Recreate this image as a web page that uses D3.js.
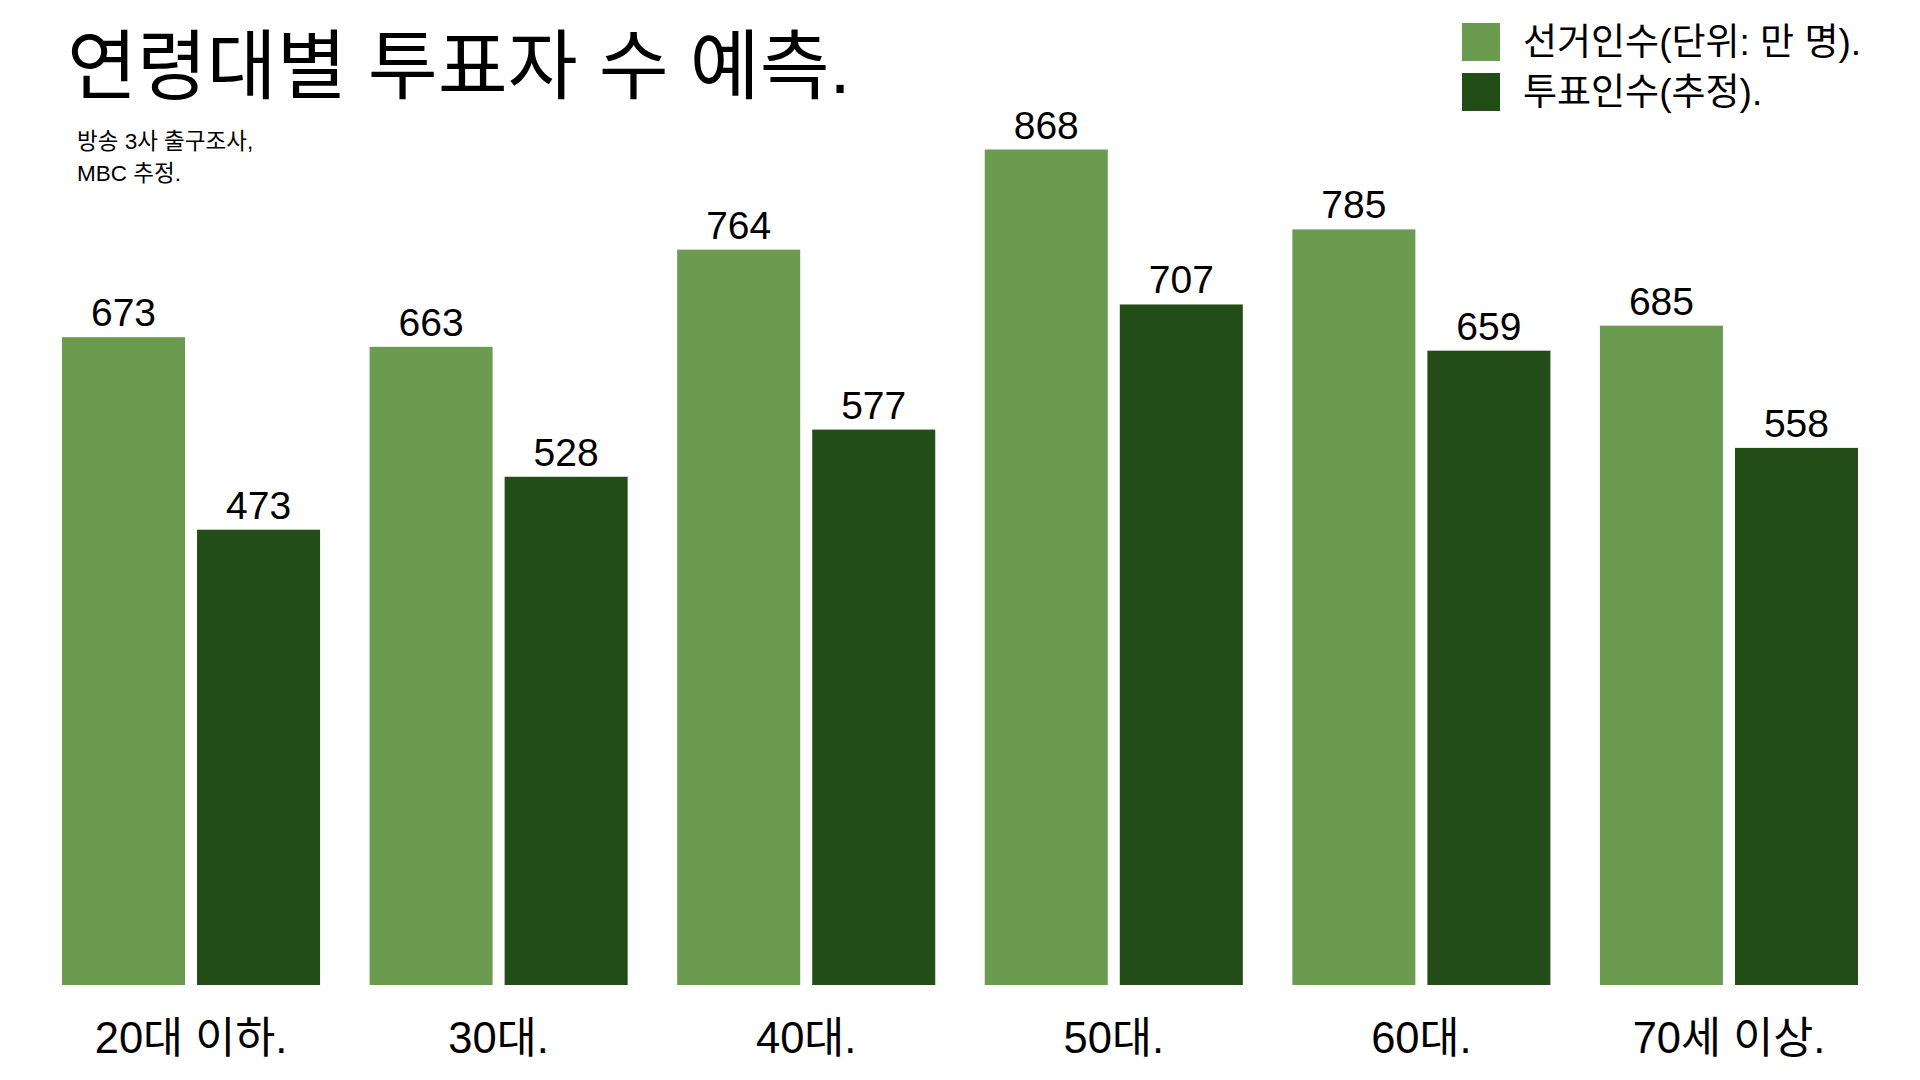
<!DOCTYPE html>
<html>
<head>
<meta charset="utf-8">
<script src="https://cdn.jsdelivr.net/npm/d3@7"></script>
<style>
  html, body { margin: 0; padding: 0; background: #ffffff; }
  svg { display: block; }
  text { font-family: "Liberation Sans", Arial, "Noto Sans CJK KR", sans-serif; fill: #000; }
</style>
</head>
<body>
<svg id="chart" width="1920" height="1080"></svg>
<script>
const categories = ["20대 이하.", "30대.", "40대.", "50대.", "60대.", "70세 이상."];
const electorate = [673, 663, 764, 868, 785, 685];
const voters = [473, 528, 577, 707, 659, 558];
const seriesNames = ["선거인수(단위: 만 명).", "투표인수(추정)."];
const seriesColors = ["#6b9b4f", "#224d16"];
const titleText = "연령대별 투표자 수 예측.";
const subtitleLines = ["방송 3사 출구조사,", "MBC 추정."];

const svg = d3.select("#chart");
const plot = { left: 62, right: 1858, top: 149.5, bottom: 985 };

const series = [electorate, voters];

const x0 = d3.scaleBand().domain(categories).range([plot.left, plot.right])
  .paddingInner(0.161).paddingOuter(0);
const x1 = d3.scaleBand().domain(d3.range(series.length)).range([0, x0.bandwidth()])
  .paddingInner(0.089).paddingOuter(0);
const y = d3.scaleLinear().domain([0, d3.max(electorate.concat(voters))]).range([plot.bottom, plot.top]);

// Title
svg.append("text").attr("x", 67).attr("y", 93)
  .style("font-size", "76px").text(titleText);

// Subtitle
svg.append("g").selectAll("text").data(subtitleLines).join("text")
  .attr("x", 77).attr("y", (d, i) => 149 + i * 31.5)
  .style("font-size", "22.5px").text(d => d);

// Legend
const leg = svg.append("g").selectAll("g").data(seriesNames).join("g")
  .attr("transform", (d, i) => `translate(1462, ${23 + i * 50})`);
leg.append("rect").attr("width", 38).attr("height", 38).attr("fill", (d, i) => seriesColors[i]);
leg.append("text").attr("x", 61).attr("y", 19).attr("dy", "0.35em")
  .style("font-size", "37px").text(d => d);

// Bars
const groups = svg.append("g").selectAll("g").data(categories).join("g")
  .attr("transform", d => `translate(${x0(d)},0)`);

groups.selectAll("rect").data((d, ci) => series.map((s, si) => ({ si, v: s[ci] }))).join("rect")
  .attr("x", d => x1(d.si))
  .attr("y", d => y(d.v))
  .attr("width", x1.bandwidth())
  .attr("height", d => y(0) - y(d.v))
  .attr("fill", d => seriesColors[d.si]);

groups.selectAll("text.val").data((d, ci) => series.map((s, si) => ({ si, v: s[ci] }))).join("text")
  .attr("class", "val")
  .attr("x", d => x1(d.si) + x1.bandwidth() / 2)
  .attr("y", d => y(d.v) - 11)
  .attr("text-anchor", "middle")
  .style("font-size", "39px")
  .text(d => d.v);

// Category axis labels
const xAxis = d3.axisBottom(x0).tickSize(0).tickPadding(0);
const ax = svg.append("g").attr("transform", `translate(0, ${plot.bottom})`).call(xAxis);
ax.select(".domain").remove();
ax.selectAll("text")
  .attr("y", 68).attr("dy", null)
  .style("font-size", "43.5px")
  .style("font-family", "\"Liberation Sans\", Arial, \"Noto Sans CJK KR\", sans-serif")
  .attr("fill", "#000");
</script>
</body>
</html>
